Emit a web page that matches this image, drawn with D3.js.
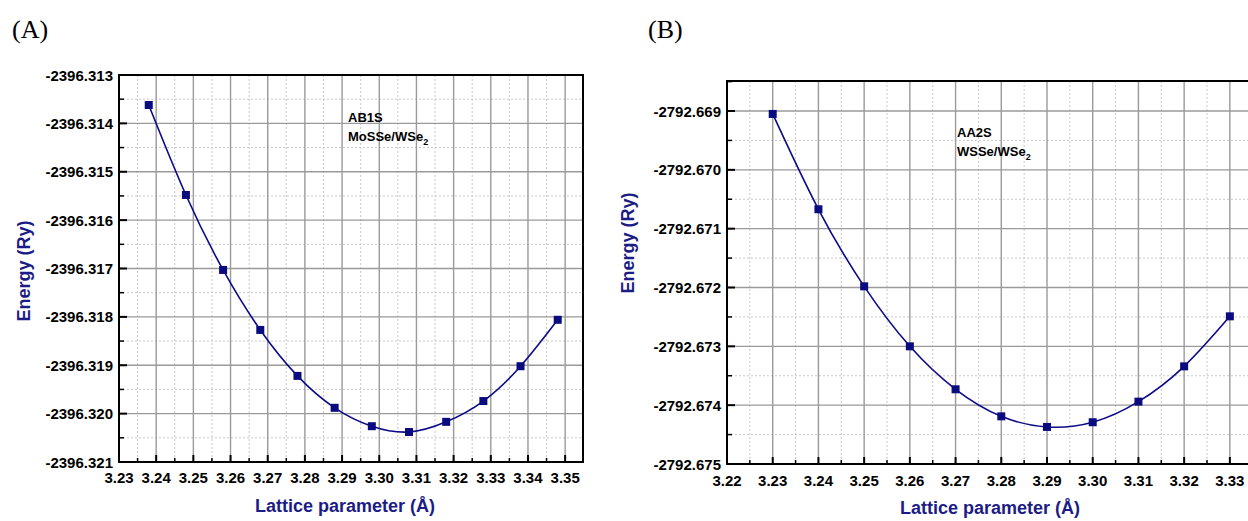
<!DOCTYPE html>
<html>
<head>
<meta charset="utf-8">
<style>
  body { margin: 0; background: #fff; }
  svg { display: block; font-family: 'Liberation Sans', Arial, sans-serif; }
  .tick-label { font-weight: bold; font-size: 15px; fill: #000; }
  .axis-title { font-weight: bold; font-size: 18px; fill: #1c1c86; }
  .note { font-weight: bold; font-size: 13px; fill: #000; }
  .panel { font-family: 'Liberation Serif', 'Times New Roman', serif; font-size: 26px; fill: #000; }
</style>
</head>
<body>
<script src="https://cdn.jsdelivr.net/npm/d3@7"></script>
<script>
// ---- data: panel A (AB1S MoSSe/WSe2) ----
var latticeA = [3.238, 3.248, 3.258, 3.268, 3.278, 3.288, 3.298, 3.308, 3.318, 3.328, 3.338, 3.348];
var energyA = [-2396.31362, -2396.31548, -2396.31703, -2396.31827, -2396.31922, -2396.31988,
               -2396.32026, -2396.32038, -2396.32017, -2396.31974, -2396.31902, -2396.31806];
var xTicksA = [3.23, 3.24, 3.25, 3.26, 3.27, 3.28, 3.29, 3.30, 3.31, 3.32, 3.33, 3.34, 3.35];
var xLabelsA = ["3.23", "3.24", "3.25", "3.26", "3.27", "3.28", "3.29", "3.30", "3.31", "3.32", "3.33", "3.34", "3.35"];
var yTicksA = [-2396.313, -2396.314, -2396.315, -2396.316, -2396.317, -2396.318, -2396.319, -2396.320, -2396.321];
var yLabelsA = ["-2396.313", "-2396.314", "-2396.315", "-2396.316", "-2396.317", "-2396.318", "-2396.319", "-2396.320", "-2396.321"];

// ---- data: panel B (AA2S WSSe/WSe2) ----
var latticeB = [3.23, 3.24, 3.25, 3.26, 3.27, 3.28, 3.29, 3.30, 3.31, 3.32, 3.33];
var energyB = [-2792.66905, -2792.67067, -2792.67198, -2792.67300, -2792.67373, -2792.67419,
               -2792.67437, -2792.67429, -2792.67394, -2792.67334, -2792.67249];
var xTicksB = [3.22, 3.23, 3.24, 3.25, 3.26, 3.27, 3.28, 3.29, 3.30, 3.31, 3.32, 3.33];
var xLabelsB = ["3.22", "3.23", "3.24", "3.25", "3.26", "3.27", "3.28", "3.29", "3.30", "3.31", "3.32", "3.33"];
var yTicksB = [-2792.669, -2792.670, -2792.671, -2792.672, -2792.673, -2792.674, -2792.675];
var yLabelsB = ["-2792.669", "-2792.670", "-2792.671", "-2792.672", "-2792.673", "-2792.674", "-2792.675"];

var svg = d3.select("body").append("svg")
  .attr("width", 1248)
  .attr("height", 521);

function drawPanel(cfg) {
  var x = d3.scaleLinear().domain(cfg.xDomain).range([cfg.left, cfg.right]);
  var y = d3.scaleLinear().domain(cfg.yDomain).range([cfg.bottom, cfg.top]);
  var g = svg.append("g");

  // minor grid (dotted, half steps)
  var xStep = cfg.xTicks[1] - cfg.xTicks[0];
  var yStep = cfg.yTicks[0] - cfg.yTicks[1];
  var xMinor = cfg.xTicks.map(function (t) { return t + xStep / 2; })
    .filter(function (t) { return t < cfg.xDomain[1]; });
  var yMinor = cfg.yTicks.map(function (t) { return t - yStep / 2; })
    .filter(function (t) { return t > cfg.yDomain[0]; });
  if (cfg.yTicks[0] - yStep / 2 < cfg.yDomain[1]) yMinor.push(cfg.yTicks[0] + yStep / 2);

  g.selectAll(".vminor").data(xMinor).enter().append("line")
    .attr("x1", d => x(d)).attr("x2", d => x(d))
    .attr("y1", cfg.top).attr("y2", cfg.bottom)
    .attr("stroke", "#c8c8c8").attr("stroke-width", 1).attr("stroke-dasharray", "2,2");
  g.selectAll(".hminor").data(yMinor.filter(d => y(d) > cfg.top)).enter().append("line")
    .attr("x1", cfg.left).attr("x2", cfg.right)
    .attr("y1", d => y(d)).attr("y2", d => y(d))
    .attr("stroke", "#c8c8c8").attr("stroke-width", 1).attr("stroke-dasharray", "2,2");

  // major grid
  g.selectAll(".vmajor").data(cfg.xTicks).enter().append("line")
    .attr("x1", d => x(d)).attr("x2", d => x(d))
    .attr("y1", cfg.top).attr("y2", cfg.bottom)
    .attr("stroke", "#9a9a9a").attr("stroke-width", 1.4);
  g.selectAll(".hmajor").data(cfg.yTicks).enter().append("line")
    .attr("x1", cfg.left).attr("x2", cfg.right)
    .attr("y1", d => y(d)).attr("y2", d => y(d))
    .attr("stroke", "#9a9a9a").attr("stroke-width", 1.4);

  // frame
  g.append("rect")
    .attr("x", cfg.left).attr("y", cfg.top)
    .attr("width", cfg.right - cfg.left).attr("height", cfg.bottom - cfg.top)
    .attr("fill", "none").attr("stroke", "#000").attr("stroke-width", 2);

  // inward ticks
  g.selectAll(".xt").data(cfg.xTicks).enter().append("line")
    .attr("x1", d => x(d)).attr("x2", d => x(d))
    .attr("y1", cfg.bottom).attr("y2", cfg.bottom - 7)
    .attr("stroke", "#000").attr("stroke-width", 2);
  g.selectAll(".xmt").data(xMinor).enter().append("line")
    .attr("x1", d => x(d)).attr("x2", d => x(d))
    .attr("y1", cfg.bottom).attr("y2", cfg.bottom - 4)
    .attr("stroke", "#000").attr("stroke-width", 1.5);
  g.selectAll(".yt").data(cfg.yTicks).enter().append("line")
    .attr("x1", cfg.left).attr("x2", cfg.left + 8)
    .attr("y1", d => y(d)).attr("y2", d => y(d))
    .attr("stroke", "#000").attr("stroke-width", 2);
  g.selectAll(".ymt").data(yMinor.filter(d => y(d) > cfg.top)).enter().append("line")
    .attr("x1", cfg.left).attr("x2", cfg.left + 5)
    .attr("y1", d => y(d)).attr("y2", d => y(d))
    .attr("stroke", "#000").attr("stroke-width", 1.5);

  // tick labels
  g.selectAll(".xl").data(cfg.xTicks).enter().append("text")
    .attr("class", "tick-label")
    .attr("x", d => x(d)).attr("y", cfg.xLabelY)
    .attr("text-anchor", "middle")
    .text((d, i) => cfg.xLabels[i]);
  g.selectAll(".yl").data(cfg.yTicks).enter().append("text")
    .attr("class", "tick-label")
    .attr("x", cfg.left - 6).attr("y", d => y(d) + 5.5)
    .attr("text-anchor", "end")
    .text((d, i) => cfg.yLabels[i]);

  // axis titles
  g.append("text").attr("class", "axis-title")
    .attr("x", cfg.xTitleX).attr("y", cfg.xTitleY)
    .attr("text-anchor", "middle")
    .text("Lattice parameter (Å)");
  g.append("text").attr("class", "axis-title")
    .attr("transform", "translate(" + cfg.yTitleX + "," + cfg.yTitleY + ") rotate(-90)")
    .attr("text-anchor", "middle")
    .text("Energy (Ry)");

  // curve + markers
  var pts = cfg.xs.map((v, i) => [v, cfg.ys[i]]);
  g.append("path")
    .datum(pts)
    .attr("fill", "none")
    .attr("stroke", "#0b0b8a")
    .attr("stroke-width", 1.6)
    .attr("d", d3.line().x(d => x(d[0])).y(d => y(d[1])).curve(d3.curveNatural));
  g.selectAll(".pt").data(pts).enter().append("rect")
    .attr("x", d => x(d[0]) - 4).attr("y", d => y(d[1]) - 4)
    .attr("width", 8).attr("height", 8)
    .attr("fill", "#0b0b80");

  // annotation
  var note = g.append("text").attr("class", "note")
    .attr("x", cfg.noteX).attr("y", cfg.noteY);
  note.append("tspan").attr("x", cfg.noteX).text(cfg.note1);
  var l2 = g.append("text").attr("class", "note")
    .attr("x", cfg.noteX).attr("y", cfg.noteY + 19);
  l2.append("tspan").text(cfg.note2);
  l2.append("tspan").attr("dy", 4).style("font-size", "9px").text("2");

  // panel label
  svg.append("text").attr("class", "panel")
    .attr("x", cfg.panelX).attr("y", 38)
    .text(cfg.panel);
}

drawPanel({
  xs: latticeA, ys: energyA,
  xTicks: xTicksA, xLabels: xLabelsA, yTicks: yTicksA, yLabels: yLabelsA,
  xDomain: [3.23, 3.3548], yDomain: [-2396.321, -2396.313],
  left: 119, right: 583, top: 75, bottom: 462,
  xLabelY: 483, xTitleX: 345, xTitleY: 512,
  yTitleX: 30, yTitleY: 271,
  noteX: 348, noteY: 122, note1: "AB1S", note2: "MoSSe/WSe",
  panelX: 12, panel: "(A)"
});

drawPanel({
  xs: latticeB, ys: energyB,
  xTicks: xTicksB, xLabels: xLabelsB, yTicks: yTicksB, yLabels: yLabelsB,
  xDomain: [3.22, 3.3355], yDomain: [-2792.675, -2792.66849],
  left: 727, right: 1255, top: 81, bottom: 464,
  xLabelY: 486, xTitleX: 990, xTitleY: 514,
  yTitleX: 634, yTitleY: 243,
  noteX: 957, noteY: 137, note1: "AA2S", note2: "WSSe/WSe",
  panelX: 648, panel: "(B)"
});
</script>
</body>
</html>
